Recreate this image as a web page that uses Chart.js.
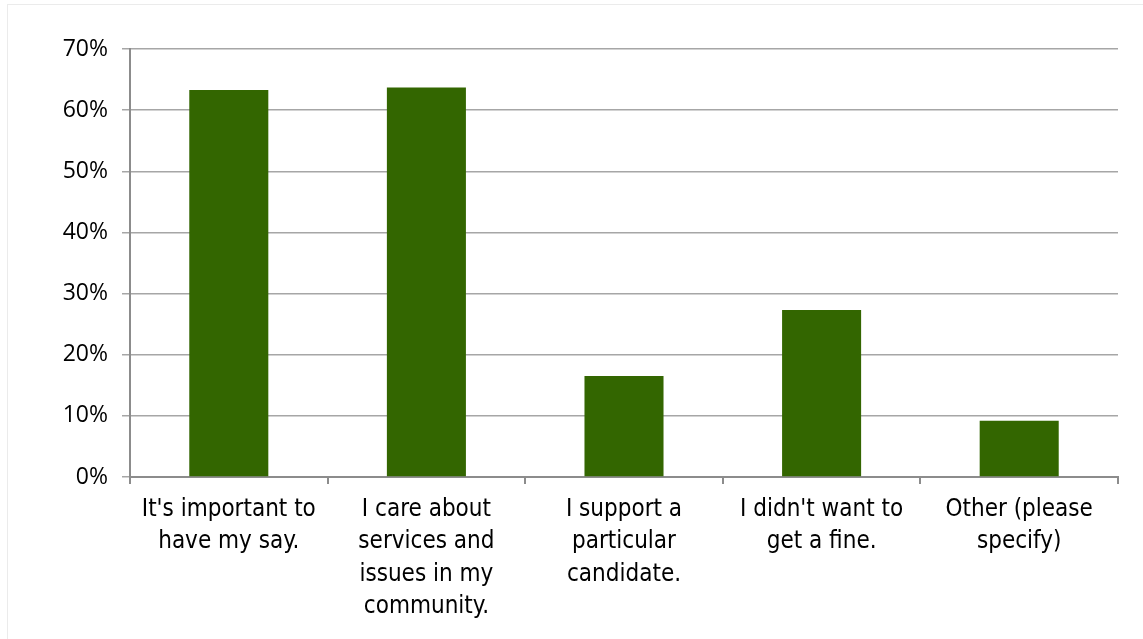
<!DOCTYPE html>
<html>
<head>
<meta charset="utf-8">
<script src="https://cdn.jsdelivr.net/npm/chart.js@4"></script>
<style>
  html, body { margin: 0; padding: 0; background: #ffffff; }
  #wrap { width: 1143px; height: 639px; position: relative; }
</style>
</head>
<body>
<div id="wrap"><canvas id="chart" width="1143" height="639"></canvas></div>
<script>
// Reasons for voting, share of respondents
const categories = [
  ["It's important to", "have my say."],
  ["I care about", "services and", "issues in my", "community."],
  ["I support a", "particular", "candidate."],
  ["I didn't want to", "get a fine."],
  ["Other (please", "specify)"]
];
const shares = [63.3, 63.7, 16.5, 27.3, 9.2];
const yTicks = [0, 10, 20, 30, 40, 50, 60, 70];

const barColor = '#336600';
const gridColor = '#a6a6a6';
const axisColor = '#8c8c8c';

// faint frame round the whole chart
const framePlugin = {
  id: 'frame',
  beforeDraw(chart) {
    const ctx = chart.ctx;
    ctx.save();
    ctx.fillStyle = '#ffffff';
    ctx.fillRect(0, 0, chart.width, chart.height);
    ctx.strokeStyle = '#ebebeb';
    ctx.lineWidth = 1;
    ctx.strokeRect(7.5, 4.5, chart.width, chart.height);
    ctx.restore();
  }
};

new Chart(document.getElementById('chart'), {
  type: 'bar',
  data: {
    labels: categories,
    datasets: [{
      data: shares,
      backgroundColor: barColor,
      borderWidth: 0,
      barPercentage: 1,
      categoryPercentage: 0.4
    }]
  },
  options: {
    responsive: false,
    animation: false,
    layout: { padding: { left: 0, right: 25, top: 49, bottom: 0 } },
    plugins: {
      legend: { display: false },
      tooltip: { enabled: false }
    },
    scales: {
      x: {
        offset: true,
        grid: {
          offset: true,
          drawOnChartArea: false,
          drawTicks: true,
          tickLength: 7,
          color: axisColor,
          lineWidth: 2
        },
        border: { color: axisColor, width: 2 },
        ticks: {
          color: '#000000',
          padding: 9,
          maxRotation: 0,
          autoSkip: false,
          font: { family: 'DejaVu Sans Condensed', size: 24, lineHeight: 1.36 }
        },
        afterFit(scale) { scale.height = 162; }
      },
      y: {
        min: 0,
        max: 70,
        afterBuildTicks(scale) { scale.ticks = yTicks.map(v => ({ value: v })); },
        grid: {
          color: gridColor,
          lineWidth: 1.5,
          drawTicks: true,
          tickLength: 8
        },
        border: { color: axisColor, width: 2 },
        ticks: {
          color: '#000000',
          padding: 14,
          callback: v => v + '%',
          font: { family: 'Open Sans', size: 23 }
        },
        afterFit(scale) { scale.width = 130; }
      }
    }
  },
  plugins: [framePlugin]
});
</script>
</body>
</html>
